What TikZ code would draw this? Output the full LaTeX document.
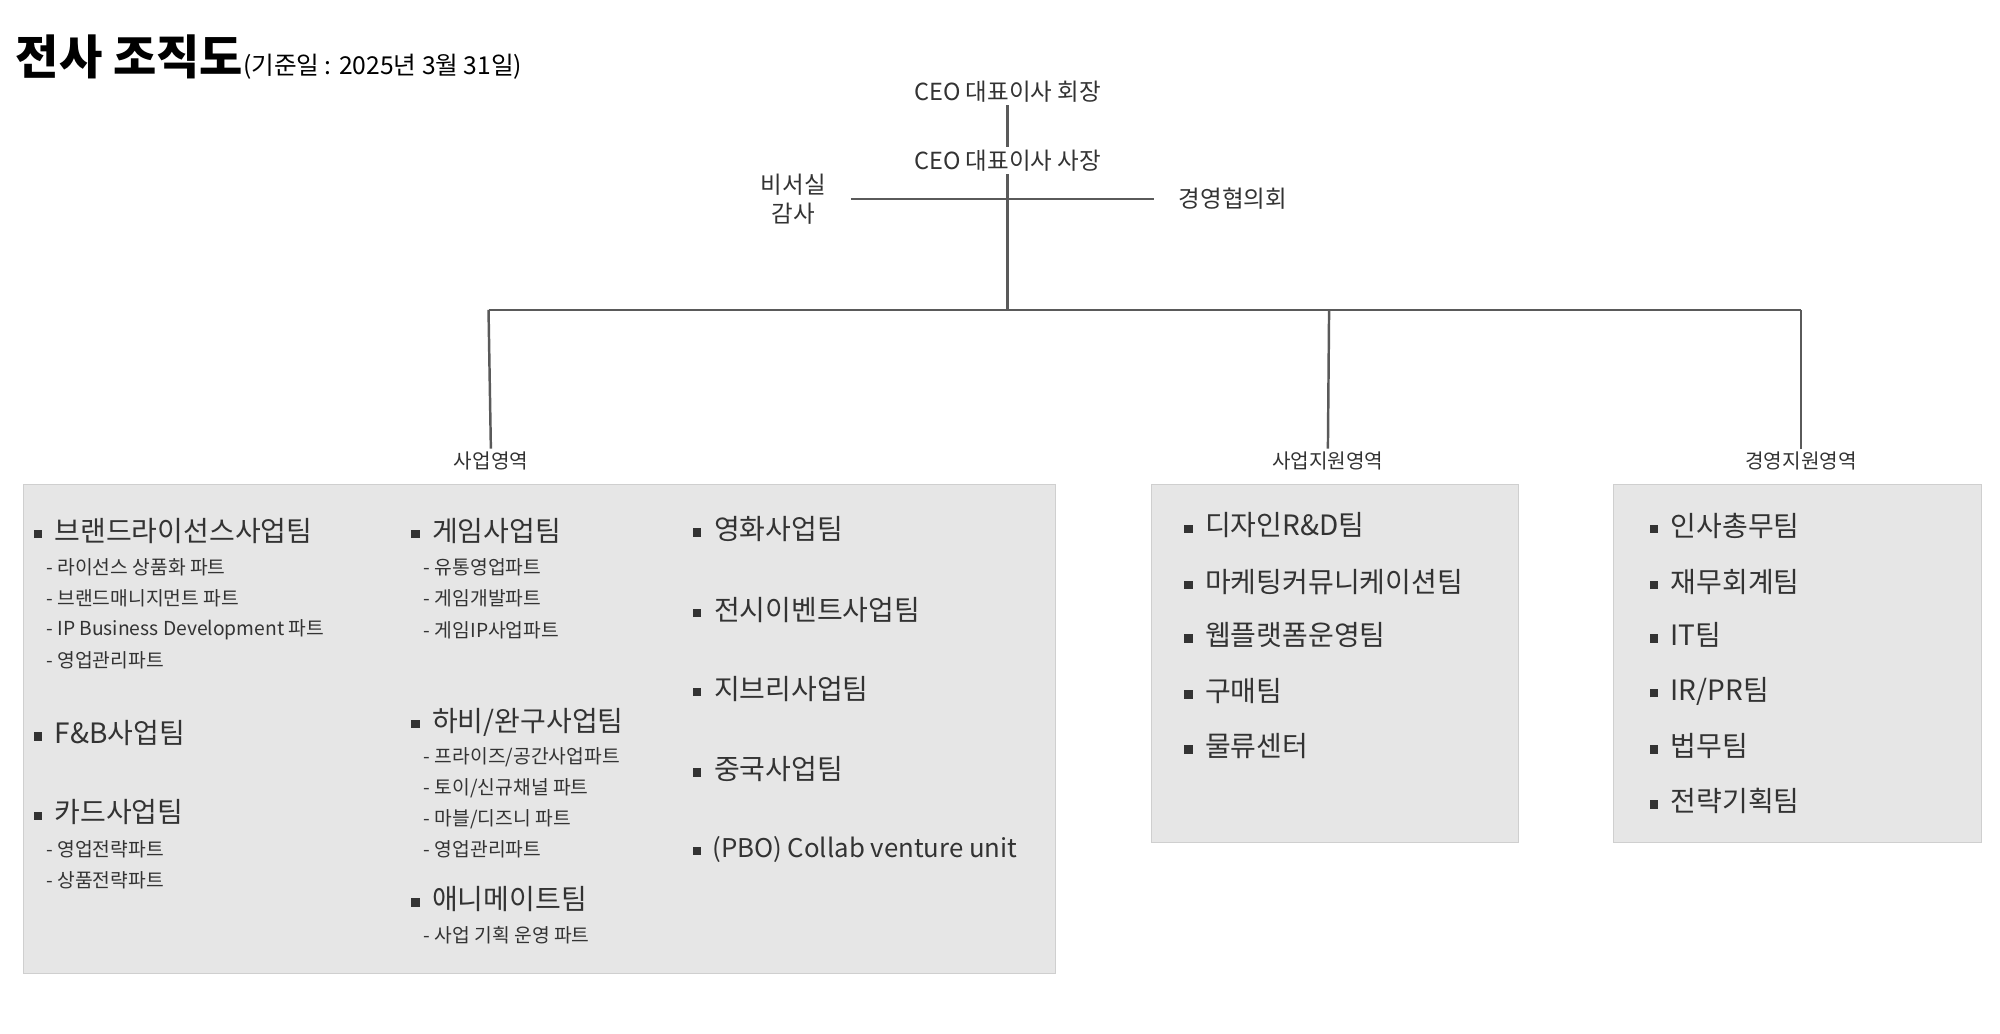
\documentclass[tikz,border=0pt]{standalone}
\usepackage{fontspec}
\setmainfont{Noto Sans CJK KR}
\usetikzlibrary{positioning}
\definecolor{ink}{HTML}{333333}
\definecolor{wire}{HTML}{5A5A5A}
\definecolor{panel}{HTML}{E6E6E6}
\newcommand{\sq}{\rule[0.2ex]{0.3em}{0.3em}\hspace{0.45em}}
\tikzstyle{team} = [anchor=west,inner sep=0pt,text=ink,font=\fontsize{12.5}{14}\selectfont]
\tikzstyle{part} = [anchor=west,inner sep=0pt,text=ink,font=\fontsize{8.6}{10}\selectfont]
\tikzstyle{head} = [inner sep=1pt,text=ink,font=\fontsize{10.5}{12}\selectfont]
\tikzstyle{area} = [inner sep=1pt,text=ink,font=\fontsize{9}{11}\selectfont]
\tikzstyle{wire} = [draw=wire,line width=1.1pt]
\tikzstyle{box} = [fill=panel,draw=panel!90!black,line width=0.3pt]
\begin{document}
\begin{tikzpicture}[x=0.02cm,y=-0.02cm]
	\useasboundingbox (0,0) rectangle (1568,810);
	\node [anchor=west,inner sep=0pt,text=black] (title) at (12,45)
	{\fontsize{21}{24}\selectfont\bfseries 전사 조직도\fontsize{11}{13}\mdseries\selectfont(기준일 : 2025년 3월 31일)};
	%%%%%%%%%%%%%%%
	\node [head] (ceo1) at (790,72) {CEO 대표이사 회장};
	\node [head] (ceo2) at (790,126) {CEO 대표이사 사장};
	\node [head,align=center,font=\fontsize{10.5}{13}\selectfont] (sec) at (622,156) {비서실\\감사};
	\node [head,anchor=west] (board) at (922,156) {경영협의회};
	\coordinate (hub) at (790,243);
	\coordinate (busL) at (383,243);
	\coordinate (busM) at (1042,243);
	\coordinate (busR) at (1412,243);
	\node [area] (a1) at (385,361) {사업영역};
	\node [area] (a2) at (1041,361) {사업지원영역};
	\node [area] (a3) at (1412,361) {경영지원영역};
	\draw [wire] (ceo1) -- (ceo2);
	\draw [wire] (ceo2) -- (hub);
	\draw [wire] ([xshift=10]sec.east) -- ([xshift=-10]board.west);
	\draw [wire] (busL) -- (busR);
	\draw [wire] (busL) -- (a1);
	\draw [wire] (busM) -- (a2);
	\draw [wire] (busR) -- (a3);
	%%%%%%%%%%%%%%%
	\fill [box] (18,380) rectangle (827,763);
	\fill [box] (903,380) rectangle (1190,660);
	\fill [box] (1265,380) rectangle (1553,660);
	%----
	\node [team] (t1) at (26,416) {\sq 브랜드라이선스사업팀};
	\node [part] (t1a) at (36,445) {- 라이선스 상품화 파트};
	\node [part] (t1b) at (36,469) {- 브랜드매니지먼트 파트};
	\node [part] (t1c) at (36,494) {- IP Business Development 파트};
	\node [part] (t1d) at (36,518) {- 영업관리파트};
	\node [team] (t2) at (26,575) {\sq F\&B사업팀};
	\node [team] (t3) at (26,637) {\sq 카드사업팀};
	\node [part] (t3a) at (36,666) {- 영업전략파트};
	\node [part] (t3b) at (36,690) {- 상품전략파트};
	%----
	\node [team] (t4) at (322,416) {\sq 게임사업팀};
	\node [part] (t4a) at (332,445) {- 유통영업파트};
	\node [part] (t4b) at (332,469) {- 게임개발파트};
	\node [part] (t4c) at (332,494) {- 게임IP사업파트};
	\node [team] (t5) at (322,566) {\sq 하비/완구사업팀};
	\node [part] (t5a) at (332,594) {- 프라이즈/공간사업파트};
	\node [part] (t5b) at (332,618) {- 토이/신규채널 파트};
	\node [part] (t5c) at (332,642) {- 마블/디즈니 파트};
	\node [part] (t5d) at (332,666) {- 영업관리파트};
	\node [team] (t6) at (322,705) {\sq 애니메이트팀};
	\node [part] (t6a) at (332,733) {- 사업 기획 운영 파트};
	%----
	\node [team] (t7) at (543,415) {\sq 영화사업팀};
	\node [team] (t8) at (543,478) {\sq 전시이벤트사업팀};
	\node [team] (t9) at (543,540) {\sq 지브리사업팀};
	\node [team] (t10) at (543,603) {\sq 중국사업팀};
	\node [team,font=\fontsize{11.5}{13}\selectfont] (t11) at (543,666) {\sq (PBO) Collab venture unit};
	%%%%%%%%%%%%%%%
	\node [team] (s1) at (928,412) {\sq 디자인R\&D팀};
	\node [team] (s2) at (928,456) {\sq 마케팅커뮤니케이션팀};
	\node [team] (s3) at (928,498) {\sq 웹플랫폼운영팀};
	\node [team] (s4) at (928,542) {\sq 구매팀};
	\node [team] (s5) at (928,585) {\sq 물류센터};
	%%%%%%%%%%%%%%%
	\node [team] (m1) at (1293,412) {\sq 인사총무팀};
	\node [team] (m2) at (1293,456) {\sq 재무회계팀};
	\node [team] (m3) at (1293,498) {\sq IT팀};
	\node [team] (m4) at (1293,542) {\sq IR/PR팀};
	\node [team] (m5) at (1293,585) {\sq 법무팀};
	\node [team] (m6) at (1293,628) {\sq 전략기획팀};
\end{tikzpicture}
\end{document}
